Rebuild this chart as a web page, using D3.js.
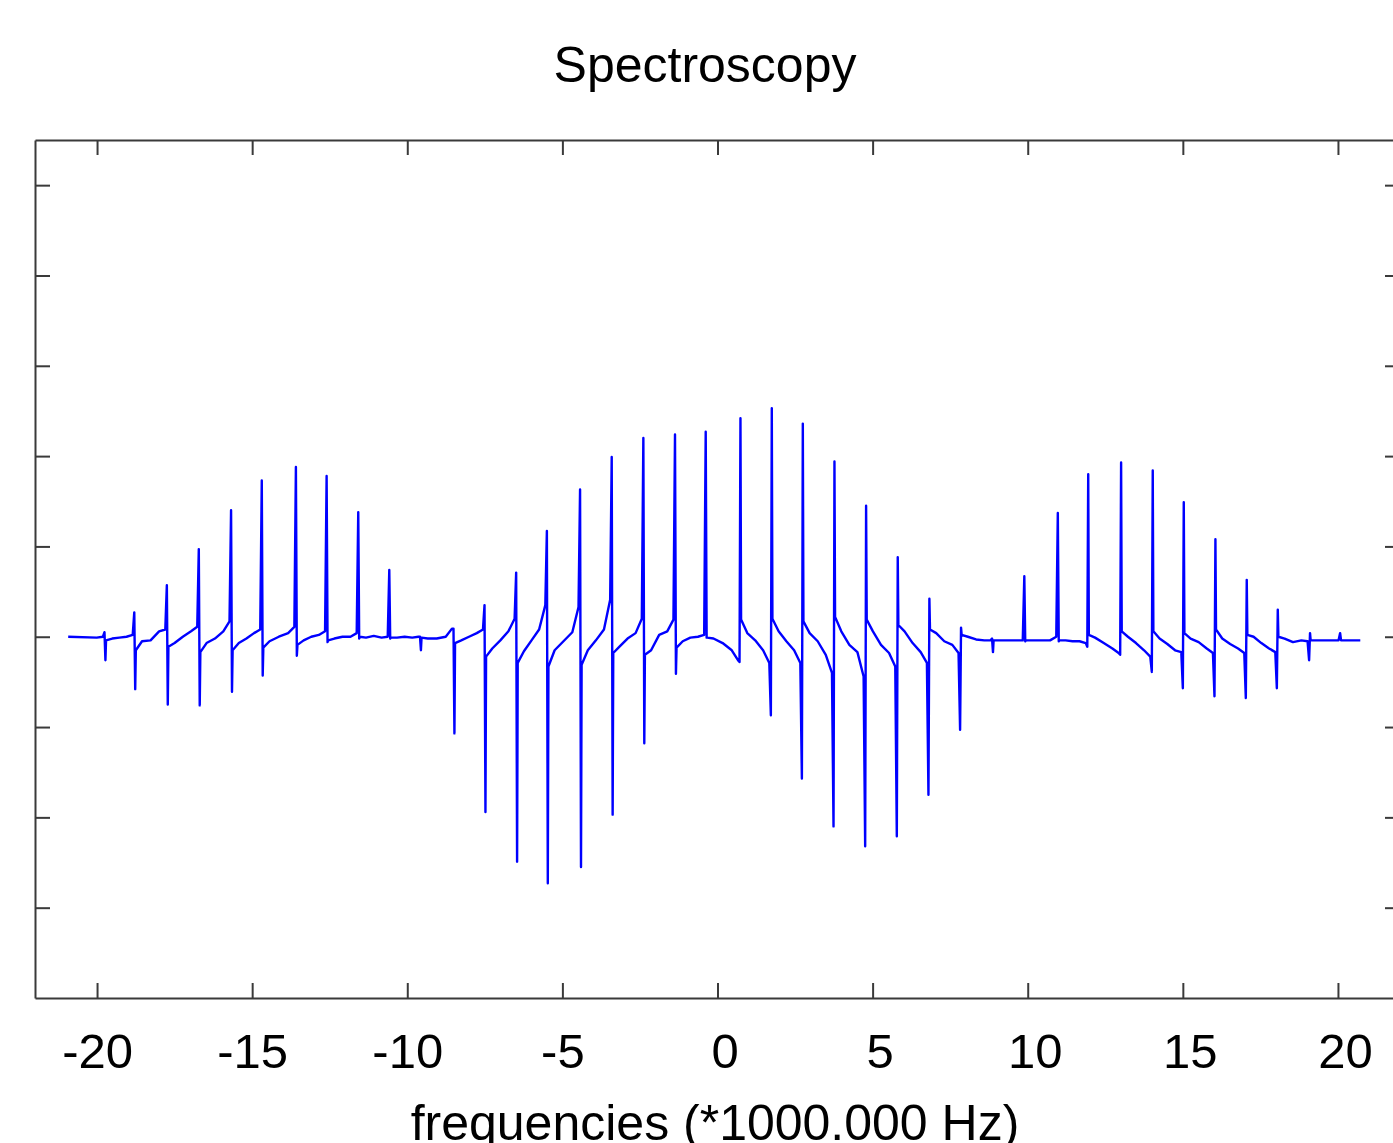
<!DOCTYPE html>
<html>
<head>
<meta charset="utf-8">
<script src="https://cdn.jsdelivr.net/npm/d3@7"></script>
<style>
  html, body { margin: 0; padding: 0; background: #fff; overflow: hidden; }
  svg { display: block; }
</style>
</head>
<body>
<script>
// ---------- data ----------
const titleText = "Spectroscopy";
const xLabelText = "frequencies (*1000.000 Hz)";
const xTicks = [-20, -15, -10, -5, 0, 5, 10, 15, 20];
const yTicks = [-3, -2, -1, 0, 1, 2, 3, 4, 5];

// line positions (kHz)
const freqs = [-19.76, -18.80, -17.75, -16.72, -15.68, -14.69, -13.59, -12.60, -11.58, -10.58,
               -9.59, -8.51, -7.51, -6.49, -5.50, -4.43, -3.41, -2.39, -1.37, -0.38,
               0.71, 1.72, 2.72, 3.74, 4.76, 5.78, 6.80, 7.82, 8.85, 9.89,
               10.97, 11.92, 12.98, 14.00, 15.00, 16.02, 17.03, 18.03, 19.07, 20.07];
// spike maxima
const tops = [0.05, 0.27, 0.57, 0.97, 1.40, 1.73, 1.88, 1.78, 1.38, 0.74,
              0.00, 0.09, 0.35, 0.71, 1.17, 1.63, 1.99, 2.20, 2.24, 2.27,
              2.42, 2.53, 2.36, 1.94, 1.45, 0.88, 0.42, 0.10, -0.02, 0.67,
              1.37, 1.80, 1.93, 1.84, 1.49, 1.08, 0.63, 0.30, 0.04, 0.04];
// spike minima
const bottoms = [-0.26, -0.58, -0.75, -0.76, -0.61, -0.43, -0.21, -0.06, -0.02, -0.02,
                 -0.15, -1.07, -1.94, -2.49, -2.73, -2.55, -1.97, -1.18, -0.41, -0.01,
                 -0.28, -0.87, -1.57, -2.10, -2.32, -2.21, -1.75, -1.03, -0.17, -0.05,
                 -0.05, -0.11, -0.20, -0.39, -0.57, -0.66, -0.68, -0.57, -0.26, -0.04];
// trace level at the hook just left of each spike
const leftShoulders = [0.00, 0.02, 0.08, 0.11, 0.17, 0.08, 0.11, 0.06, 0.04, 0.00,
                       0.00, 0.09, 0.08, 0.20, 0.35, 0.33, 0.41, 0.20, 0.19, 0.02,
                       -0.26, -0.29, -0.29, -0.40, -0.44, -0.33, -0.29, -0.18, -0.04, -0.04,
                       0.00, -0.07, -0.18, -0.22, -0.17, -0.18, -0.18, -0.17, -0.05, -0.04];
// trace level at the hook just right of each spike
const rightShoulders = [-0.04, -0.15, -0.11, -0.17, -0.15, -0.12, -0.09, -0.04, 0.00, -0.01,
                        -0.01, -0.07, -0.22, -0.29, -0.33, -0.31, -0.18, -0.20, -0.12, -0.01,
                        0.19, 0.20, 0.17, 0.22, 0.19, 0.13, 0.08, 0.02, -0.04, -0.04,
                        -0.04, 0.02, 0.06, 0.06, 0.04, 0.08, 0.02, 0.00, -0.04, -0.04];
// trace level a quarter unit left of each spike
const leftTails = [-0.01, 0.00, 0.06, 0.06, 0.06, 0.04, 0.04, 0.02, 0.00, -0.01,
                   -0.01, 0.00, 0.04, 0.06, 0.08, 0.05, 0.08, 0.04, 0.06, 0.00,
                   -0.15, -0.15, -0.15, -0.20, -0.17, -0.18, -0.17, -0.09, -0.04, -0.04,
                   -0.04, -0.05, -0.13, -0.15, -0.15, -0.13, -0.13, -0.13, -0.04, -0.04];
// trace level a quarter unit right of each spike
const rightTails = [-0.02, -0.05, -0.07, -0.07, -0.07, -0.05, -0.04, -0.02, -0.01, -0.01,
                    -0.02, -0.04, -0.13, -0.16, -0.15, -0.15, -0.11, -0.15, -0.05, -0.02,
                    0.04, 0.06, 0.04, 0.06, 0.06, 0.06, 0.04, 0.00, -0.04, -0.04,
                    -0.04, -0.01, 0.00, -0.02, -0.02, -0.02, 0.00, -0.02, -0.04, -0.04];
// trace level half way between neighbouring spikes
const gapMids = [-0.01, -0.04, 0.00, -0.02, -0.02, 0.00, 0.00, 0.00, 0.01, 0.00,
                 -0.02, 0.00, -0.04, -0.04, -0.05, -0.04, -0.02, 0.02, -0.01, -0.07,
                 -0.04, -0.05, -0.05, -0.09, -0.09, -0.07, -0.05, -0.03, -0.04, -0.04,
                 -0.05, -0.07, -0.07, -0.08, -0.06, -0.08, -0.07, -0.06, -0.04];
const traceStart = [-20.93, 0.00];
const traceEnd = [20.72, -0.04];

// ---------- layout ----------
const W = 1393, H = 1143;
const plot = { left: 35, top: 140, right: 1400, bottom: 998 };
const fontFam = "'Liberation Sans', Arial, Helvetica, sans-serif";
const frameColor = "#3a3a3a";

const svg = d3.select("body").append("svg")
  .attr("width", W).attr("height", H)
  .style("font-family", fontFam);

const x = d3.scaleLinear().domain([-22, 22]).range([plot.left, plot.right]);
const y = d3.scaleLinear().domain([-4, 5.5]).range([plot.bottom, plot.top]);

// ---------- trace ----------
const hookGap = 0.05, tailGap = 0.25, spikeSplit = 0.03;
const pts = [traceStart];
freqs.forEach((f, i) => {
  pts.push([f - tailGap, leftTails[i]]);
  pts.push([f - hookGap, leftShoulders[i]]);
  if (leftShoulders[i] >= rightShoulders[i]) {
    pts.push([f, tops[i]]); pts.push([f + spikeSplit, bottoms[i]]);
  } else {
    pts.push([f, bottoms[i]]); pts.push([f + spikeSplit, tops[i]]);
  }
  pts.push([f + hookGap, rightShoulders[i]]);
  pts.push([f + tailGap, rightTails[i]]);
  if (i < freqs.length - 1) pts.push([(f + freqs[i + 1]) / 2, gapMids[i]]);
});
pts.push(traceEnd);

const line = d3.line().x(d => x(d[0])).y(d => y(d[1]));
svg.append("path")
  .attr("d", line(pts))
  .attr("fill", "none")
  .attr("stroke", "#0000ff")
  .attr("stroke-width", 2.4)
  .attr("stroke-linejoin", "round");

// ---------- axes / frame ----------
function styleAxis(g) {
  g.selectAll("path.domain").attr("stroke", frameColor).attr("stroke-width", 2);
  g.selectAll(".tick line").attr("stroke", frameColor).attr("stroke-width", 2);
}

const axB = svg.append("g").attr("transform", `translate(0,${plot.bottom})`)
  .call(d3.axisBottom(x).tickValues(xTicks).tickSizeInner(-15).tickSizeOuter(0).tickPadding(35)
    .tickFormat(d => d < 0 ? "-" + Math.abs(d) : String(d)));
styleAxis(axB);
axB.selectAll(".tick text")
  .attr("font-size", 49).attr("font-family", fontFam).attr("fill", "#000")
  .attr("dx", d => d >= 0 ? 7 : 0);

const axT = svg.append("g").attr("transform", `translate(0,${plot.top})`)
  .call(d3.axisTop(x).tickValues(xTicks).tickSizeInner(-15).tickSizeOuter(0).tickFormat(""));
styleAxis(axT);

const axL = svg.append("g").attr("transform", `translate(${plot.left},0)`)
  .call(d3.axisLeft(y).tickValues(yTicks).tickSizeInner(-15).tickSizeOuter(0).tickFormat(""));
styleAxis(axL);

const axR = svg.append("g").attr("transform", `translate(${plot.right},0)`)
  .call(d3.axisRight(y).tickValues(yTicks).tickSizeInner(-15).tickSizeOuter(0).tickFormat(""));
styleAxis(axR);

// ---------- titles ----------
svg.append("text")
  .attr("x", 705).attr("y", 82)
  .attr("text-anchor", "middle")
  .attr("font-size", 50).attr("fill", "#000")
  .text(titleText);

svg.append("text")
  .attr("x", 715).attr("y", 1140)
  .attr("text-anchor", "middle")
  .attr("font-size", 50).attr("fill", "#000")
  .text(xLabelText);
</script>
</body>
</html>
